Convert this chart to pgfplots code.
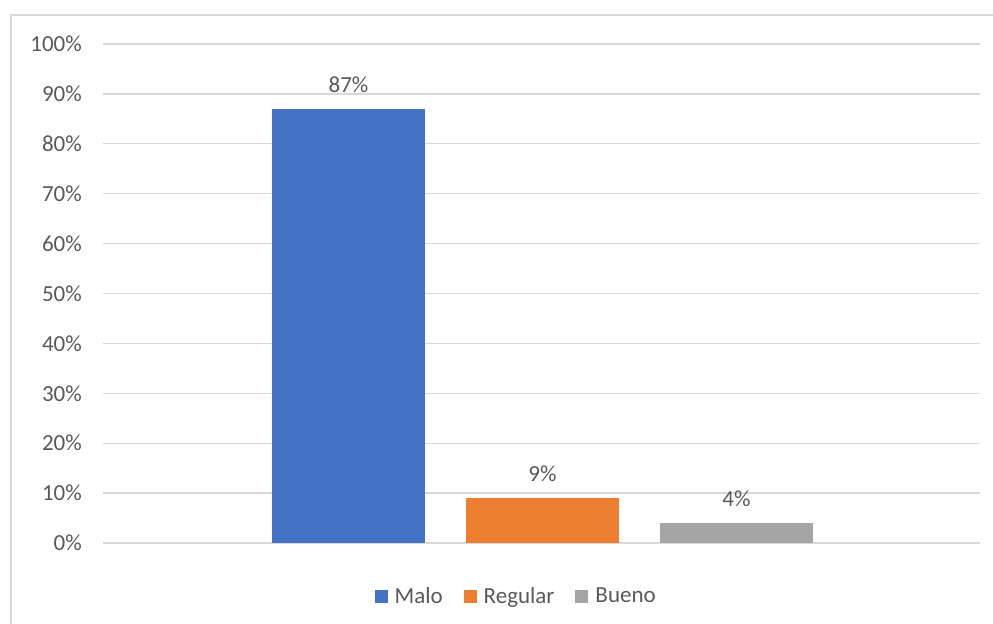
\documentclass[border=0pt]{standalone}
\usepackage{pgfplots}
\pgfplotsset{compat=1.18}
\usepackage{fontspec}
\setmainfont{Carlito}
\definecolor{cBlue}{HTML}{4472C4}
\definecolor{cOrange}{HTML}{ED7D31}
\definecolor{cGray}{HTML}{A5A5A5}
\definecolor{gridgray}{HTML}{D9D9D9}
\definecolor{tickgray}{HTML}{595959}
\begin{document}
\fontsize{23bp}{28bp}\selectfont
\begin{tikzpicture}
\begin{axis}[
  at={(103bp,81bp)}, anchor=south west,
  width=877bp, height=499bp, scale only axis,
  xmin=0, xmax=877, ymin=0, ymax=100,
  axis line style={draw=none},
  ytick={0,10,...,100}, xtick=\empty,
  major tick length=0pt,
  ymajorgrids, grid style={color=gridgray, line width=1.3bp},
  yticklabel={\pgfmathprintnumber{\tick}\%},
  /pgf/number format/assume math mode=true,
  yticklabel style={text=tickgray, inner sep=0pt, xshift=-21bp},
  ybar, bar width=153bp, bar shift=0pt,
  nodes near coords={\pgfmathprintnumber{\pgfplotspointmeta}\%},
  nodes near coords style={text=tickgray, inner sep=0pt, anchor=south, yshift=16bp},
  legend style={at={(0.47,-0.108)}, anchor=center, draw=none, fill=none,
    legend columns=3, text=tickgray, nodes={inner sep=0pt},
    /tikz/every odd column/.append style={column sep=7bp},
    /tikz/every even column/.append style={column sep=21bp}},
  legend image code/.code={\fill[#1] (0bp,-6.5bp) rectangle (13bp,6.5bp);},
]
\addplot[fill=cBlue, draw=none] coordinates {(245.5,87)};
\addplot[fill=cOrange, draw=none] coordinates {(439.5,9)};
\addplot[fill=cGray, draw=none] coordinates {(633.5,4)};
\legend{Malo, Regular, Bueno}
\end{axis}
\pgfresetboundingbox
\path[use as bounding box] (0,0) rectangle (993bp,624bp);
\draw[gridgray, line width=1.5bp] (11bp,0) -- (11bp,609bp) -- (993bp,609bp);
\end{tikzpicture}
\end{document}
